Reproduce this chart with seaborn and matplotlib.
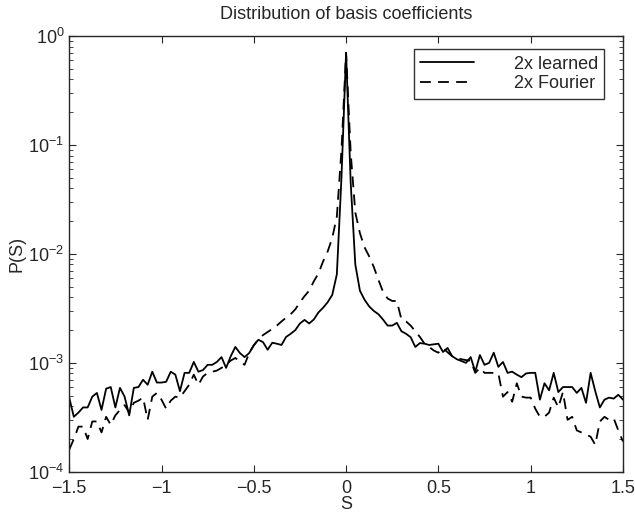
import matplotlib
matplotlib.use("Agg")
import matplotlib.pyplot as plt
import seaborn as sns
import pandas as pd
import numpy as np

# bin centres of the coefficient histogram, step 0.025
s_values = np.round(np.arange(-1.5, 1.5001, 0.025), 3)

learned = [
    4.8e-4, 3.2e-4, 3.5e-4, 3.9e-4, 3.9e-4, 4.9e-4, 5.3e-4, 3.7e-4, 5.8e-4, 6.0e-4,
    3.9e-4, 5.9e-4, 4.9e-4, 3.3e-4, 5.9e-4, 6.0e-4, 7.0e-4, 6.3e-4, 8.3e-4, 6.6e-4,
    6.6e-4, 6.7e-4, 8.3e-4, 7.8e-4, 5.5e-4, 8.1e-4, 8.1e-4, 1.02e-3, 8.3e-4, 8.6e-4,
    9.6e-4, 9.6e-4, 1.02e-3, 1.13e-3, 9.0e-4, 1.15e-3, 1.40e-3, 1.23e-3, 1.13e-3, 1.23e-3,
    1.45e-3, 1.63e-3, 1.55e-3, 1.32e-3, 1.53e-3, 1.50e-3, 1.46e-3, 1.73e-3, 1.85e-3, 2.0e-3,
    2.3e-3, 2.48e-3, 2.3e-3, 2.5e-3, 2.9e-3, 3.2e-3, 3.6e-3, 4.2e-3, 6.5e-3, 5.0e-2,
    0.70,
    4.5e-2, 8.0e-3, 4.6e-3, 3.8e-3, 3.3e-3, 3.0e-3, 2.8e-3, 2.5e-3, 2.2e-3, 2.2e-3,
    2.33e-3, 1.95e-3, 1.85e-3, 1.72e-3, 1.40e-3, 1.52e-3, 1.50e-3, 1.46e-3, 1.48e-3, 1.50e-3,
    1.26e-3, 1.37e-3, 1.15e-3, 1.08e-3, 1.04e-3, 1.0e-3, 1.13e-3, 8.3e-4, 1.18e-3, 9.6e-4,
    1.0e-3, 1.24e-3, 9.2e-4, 1.02e-3, 8.1e-4, 8.3e-4, 7.8e-4, 7.4e-4, 8.0e-4, 8.1e-4,
    8.1e-4, 4.6e-4, 6.5e-4, 5.6e-4, 8.1e-4, 5.4e-4, 6.0e-4, 6.0e-4, 6.0e-4, 5.3e-4,
    5.9e-4, 4.3e-4, 8.1e-4, 5.5e-4, 3.9e-4, 4.6e-4, 4.8e-4, 4.7e-4, 5.1e-4, 4.6e-4,
]

fourier = [
    1.6e-4, 2.0e-4, 2.6e-4, 2.6e-4, 2.0e-4, 2.9e-4, 2.9e-4, 2.3e-4, 3.2e-4, 2.7e-4,
    3.3e-4, 3.7e-4, 4.1e-4, 3.5e-4, 4.3e-4, 4.5e-4, 4.8e-4, 3.0e-4, 4.9e-4, 5.3e-4,
    4.6e-4, 3.8e-4, 4.5e-4, 4.9e-4, 4.8e-4, 5.5e-4, 6.3e-4, 7.8e-4, 6.3e-4, 7.5e-4,
    8.1e-4, 8.3e-4, 8.5e-4, 9.0e-4, 9.6e-4, 1.05e-3, 1.11e-3, 1.03e-3, 9.6e-4, 1.23e-3,
    1.45e-3, 1.65e-3, 1.8e-3, 1.92e-3, 2.05e-3, 2.2e-3, 2.4e-3, 2.6e-3, 2.8e-3, 3.1e-3,
    3.6e-3, 4.1e-3, 4.6e-3, 5.6e-3, 6.6e-3, 8.5e-3, 1.05e-2, 1.4e-2, 2.2e-2, 9.0e-2,
    0.70,
    8.5e-2, 2.4e-2, 1.55e-2, 1.15e-2, 9.5e-3, 7.6e-3, 5.8e-3, 4.5e-3, 3.9e-3, 3.7e-3,
    3.7e-3, 2.5e-3, 2.4e-3, 2.2e-3, 1.95e-3, 1.73e-3, 1.50e-3, 1.40e-3, 1.30e-3, 1.24e-3,
    1.37e-3, 1.25e-3, 1.15e-3, 1.11e-3, 1.08e-3, 1.06e-3, 1.05e-3, 8.1e-4, 9.0e-4, 8.1e-4,
    8.1e-4, 8.1e-4, 8.0e-4, 4.9e-4, 5.4e-4, 4.4e-4, 6.5e-4, 4.9e-4, 4.8e-4, 4.8e-4,
    3.8e-4, 3.2e-4, 3.2e-4, 3.5e-4, 4.8e-4, 3.9e-4, 5.4e-4, 3.0e-4, 3.2e-4, 2.4e-4,
    2.3e-4, 2.2e-4, 2.1e-4, 1.77e-4, 2.9e-4, 3.2e-4, 3.0e-4, 3.1e-4, 2.4e-4, 1.9e-4,
]

series_names = ["2x learned", "2x Fourier"]
x_ticks = [-1.5, -1, -0.5, 0, 0.5, 1, 1.5]
x_tick_labels = ["\u22121.5", "\u22121", "\u22120.5", "0", "0.5", "1", "1.5"]

assert len(learned) == len(s_values) == len(fourier)

sns.set_style("ticks")
plt.rcParams["font.family"] = ["Liberation Sans", "DejaVu Sans"]
plt.rcParams["font.size"] = 13
plt.rcParams["xtick.direction"] = "in"
plt.rcParams["ytick.direction"] = "in"
plt.rcParams["xtick.top"] = True
plt.rcParams["ytick.right"] = True
plt.rcParams["axes.linewidth"] = 1.0

df = pd.DataFrame({
    "S": np.concatenate([s_values, s_values]),
    "P(S)": learned + fourier,
    "series": [series_names[0]] * len(s_values) + [series_names[1]] * len(s_values),
})

fig = plt.figure(figsize=(6.35, 5.14), dpi=100)
ax = fig.add_axes([0.109, 0.082, 0.872, 0.848])

sns.lineplot(
    data=df, x="S", y="P(S)", hue="series", style="series",
    palette={series_names[0]: "black", series_names[1]: "black"},
    dashes={series_names[0]: "", series_names[1]: (6, 4)},
    linewidth=1.3, ax=ax, legend=True,
)

ax.set_yscale("log")
ax.set_xlim(-1.5, 1.5)
ax.set_ylim(1e-4, 1)
ax.set_xticks(x_ticks)
ax.set_xticklabels(x_tick_labels)
ax.tick_params(which="major", length=5, width=0.8, labelsize=13)
ax.tick_params(axis="x", which="major", pad=6)
ax.tick_params(which="minor", length=3, width=0.6)
ax.tick_params(axis="x", which="minor", bottom=False, top=False)

ax.set_title("Distribution of basis coefficients", fontsize=13, pad=12)
ax.set_xlabel("S", fontsize=13, labelpad=-1)
ax.set_ylabel("P(S)", fontsize=13, labelpad=2)

leg = ax.legend(
    loc="upper right", bbox_to_anchor=(0.983, 0.99), fontsize=13,
    frameon=True, fancybox=False, handlelength=3.0, borderpad=0.35,
    labelspacing=0.15, handletextpad=2.2,
)
leg.get_frame().set_edgecolor("black")
leg.get_frame().set_linewidth(1.0)

fig.savefig("out.png", dpi=100)
